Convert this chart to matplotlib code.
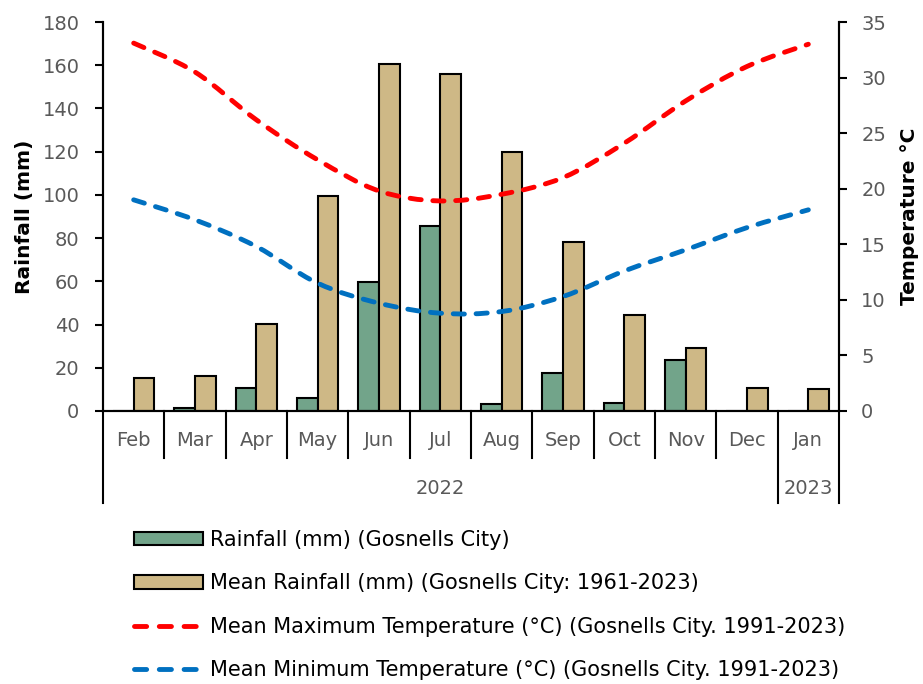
import matplotlib
matplotlib.use("Agg")
import matplotlib.pyplot as plt
from matplotlib.path import Path
from matplotlib.patches import PathPatch, Rectangle
from matplotlib.lines import Line2D
import matplotlib.transforms as mtransforms
import numpy as np

plt.rcParams['font.family'] = ['DejaVu Sans']

months = ["Feb", "Mar", "Apr", "May", "Jun", "Jul", "Aug", "Sep", "Oct", "Nov", "Dec", "Jan"]
years = ["2022", "2023"]
rainfall = [0.0, 1.5, 10.8, 6.2, 59.7, 85.5, 3.2, 17.5, 3.6, 23.6, 0.0, 0.0]
mean_rainfall = [15.5, 16.2, 40.3, 99.4, 160.4, 155.8, 119.8, 78.4, 44.2, 29.2, 10.8, 10.0]
mean_max_temp = [33.1, 30.5, 26.2, 22.6, 19.8, 18.9, 19.5, 21.0, 24.1, 27.9, 31.0, 33.0]
mean_min_temp = [19.0, 17.2, 14.8, 11.5, 9.7, 8.8, 8.95, 10.3, 12.6, 14.5, 16.5, 18.1]

labels = ["Rainfall (mm) (Gosnells City)",
          "Mean Rainfall (mm) (Gosnells City: 1961-2023)",
          "Mean Maximum Temperature (°C) (Gosnells City. 1991-2023)",
          "Mean Minimum Temperature (°C) (Gosnells City. 1991-2023)"]

GREEN = "#72A48A"
TAN = "#CEB886"
RED = "#FF0000"
BLUE = "#0070C0"
GRAY = "#595959"

fig = plt.figure(figsize=(9.23, 6.84), dpi=100)
ax = fig.add_axes([103/923, 1-411/684, (839-103)/923, (411-22)/684])
ax2 = ax.twinx()

x = np.arange(len(months))
w = 0.335
ax.bar(x - w/2, rainfall, width=w, color=GREEN, edgecolor="black", linewidth=1.5, zorder=2)
ax.bar(x + w/2, mean_rainfall, width=w, color=TAN, edgecolor="black", linewidth=1.5, zorder=2)
ax.set_xlim(-0.5, len(months) - 0.5)
ax.set_ylim(0, 180)
ax.set_yticks(np.arange(0, 181, 20))
ax2.set_ylim(0, 35)
ax2.set_yticks(np.arange(0, 36, 5))


def smooth_path(xs, ys):
    pts = np.column_stack([xs, ys]).astype(float)
    n = len(pts)
    verts = [pts[0]]
    codes = [Path.MOVETO]
    for i in range(n - 1):
        p0 = pts[i - 1] if i > 0 else pts[i]
        p1 = pts[i]
        p2 = pts[i + 1]
        p3 = pts[i + 2] if i + 2 < n else pts[i + 1]
        c1 = p1 + (p2 - p0) / 6.0
        c2 = p2 - (p3 - p1) / 6.0
        verts += [c1, c2, p2]
        codes += [Path.CURVE4] * 3
    return Path(verts, codes)


LW = 3.5
DASH = (0, (2.3, 2.4))
LEG_DASH = (0, (2.5, 2.6))
for vals, col in [(mean_max_temp, RED), (mean_min_temp, BLUE)]:
    patch = PathPatch(smooth_path(x, vals), facecolor="none", edgecolor=col,
                      linewidth=LW, linestyle=DASH, capstyle="round", zorder=3)
    ax2.add_patch(patch)

for a in (ax, ax2):
    a.spines["top"].set_visible(False)
    for s in a.spines.values():
        s.set_linewidth(1.5)
        s.set_color("black")
    a.tick_params(axis="y", direction="out", length=6, width=1.5, colors="black",
                  labelcolor=GRAY, labelsize=14)
ax.tick_params(axis="y", pad=11)
ax2.tick_params(axis="y", pad=10)

ax.set_xticks([])
trans = mtransforms.blended_transform_factory(ax.transData, ax.transAxes)
hpx = 411 - 22
for i in range(len(months) + 1):
    xb = i - 0.5
    if i in (0, 11, 12):
        y1 = -(503 - 411) / hpx
    else:
        y1 = -(458 - 411) / hpx
    ax.plot([xb, xb], [0, y1], transform=trans, color="black", lw=1.5, clip_on=False)
for i, m in enumerate(months):
    ax.text(i, -(441 - 411) / hpx, m, transform=trans, ha="center", va="center",
            color=GRAY, fontsize=14)
ax.text(5, -(489 - 411) / hpx, years[0], transform=trans, ha="center", va="center",
        color=GRAY, fontsize=14)
ax.text(11, -(489 - 411) / hpx, years[1], transform=trans, ha="center", va="center",
        color=GRAY, fontsize=14)

ax.set_ylabel("Rainfall (mm)", fontsize=14.5, fontweight="bold", labelpad=6)
ax2.set_ylabel("Temperature °C", fontsize=14.5, fontweight="bold", labelpad=10)

handles = [Rectangle((0, 0), 1, 1, facecolor=GREEN, edgecolor="black", linewidth=1.5),
           Rectangle((0, 0), 1, 1, facecolor=TAN, edgecolor="black", linewidth=1.5),
           Line2D([], [], color=RED, lw=LW, linestyle=LEG_DASH, dash_capstyle="round"),
           Line2D([], [], color=BLUE, lw=LW, linestyle=LEG_DASH, dash_capstyle="round")]
fig.legend(handles, labels, loc="upper left", bbox_to_anchor=(134/923, 1 - 530/684),
           frameon=False, fontsize=15, handlelength=3.3, handleheight=0.6,
           handletextpad=0.35, labelspacing=1.12, borderaxespad=0, borderpad=0)

fig.savefig("out.png", dpi=100)
